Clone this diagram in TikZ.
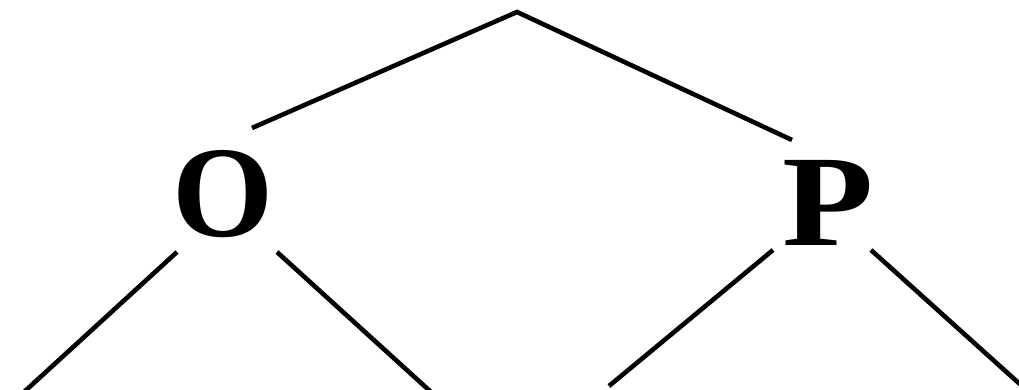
\documentclass[tikz,border=0pt]{standalone}
\usepackage{fontspec}
\setmainfont{Liberation Serif}[BoldFont={Liberation Serif Bold}]
\begin{document}
\begin{tikzpicture}[x=1pt,y=-1pt,
  lbl/.style={inner sep=0pt,anchor=base,font=\fontsize{130}{130}\selectfont\bfseries},
  edge/.style={line width=4.6pt,black}]
\useasboundingbox (0,0) rectangle (1019,389);
\clip (0,0) rectangle (1019,389);
\node[lbl] (O) at (223,236) {O};
\node[lbl,xscale=1.15] (P) at (828,245) {P};
\coordinate (root) at (517,12);
\coordinate (Oin) at (252,128);
\coordinate (Pin) at (792,140);
\coordinate (Oa) at (177,252);
\coordinate (Ob) at (277,252);
\coordinate (Pa) at (773,250);
\coordinate (Pb) at (871,250);
\coordinate (l1) at (24,392);
\coordinate (l2) at (431,392);
\coordinate (l3) at (609,386);
\coordinate (l4) at (1022,386);
\draw[edge] (Oin) -- (root) -- (Pin);
\draw[edge] (Oa) -- (l1);
\draw[edge] (Ob) -- (l2);
\draw[edge] (Pa) -- (l3);
\draw[edge] (Pb) -- (l4);
\end{tikzpicture}
\end{document}
